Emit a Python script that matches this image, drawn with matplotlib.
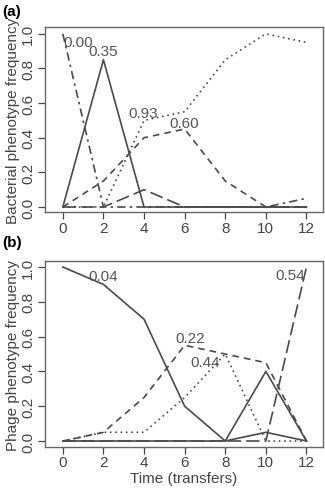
import matplotlib
matplotlib.use('Agg')
from matplotlib import pyplot as plt

plt.rcParams['font.family'] = ['Liberation Sans', 'DejaVu Sans']

# transfers on the x axis
time = [0, 2, 4, 6, 8, 10, 12]

# panel (a): bacterial phenotypes
bact_solid = [0, 0.85, 0, 0, 0, 0, 0]
bact_dotdash = [1.0, 0, 0, 0, 0, 0, 0.05]
bact_dotted = [0, 0, 0.5, 0.55, 0.85, 1.0, 0.95]
bact_dashed = [0, 0.15, 0.4, 0.45, 0.15, 0, 0]
bact_longdash = [0, 0, 0.1, 0, 0, 0, 0]
bact_labels = ['0.00', '0.35', '0.93', '0.60']
bact_label_x = [0.75, 2.0, 3.95, 6.0]
bact_label_y = [0.95, 0.9, 0.54, 0.485]

# panel (b): phage phenotypes
phage_solid = [1.0, 0.9, 0.7, 0.2, 0, 0.4, 0]
phage_solid2 = [0, 0, 0, 0, 0, 0.05, 0]
phage_dashed = [0, 0.05, 0.25, 0.55, 0.5, 0.45, 0]
phage_dotted = [0, 0.05, 0.05, 0.25, 0.5, 0, 0]
phage_longdash = [0, 0, 0, 0, 0, 0, 1.0]
phage_labels = ['0.04', '0.22', '0.44', '0.54']
phage_label_x = [2.0, 6.25, 7.0, 11.2]
phage_label_y = [0.95, 0.59, 0.455, 0.955]

yticks = [0.0, 0.2, 0.4, 0.6, 0.8, 1.0]
xticks = [0, 2, 4, 6, 8, 10, 12]

line_col = '#4a4a4a'
text_col = '#555555'
lw = 1.2
fs = 11
styles = {
    'solid': '-',
    'dashed': (0, (4, 3)),
    'dotted': (0, (1, 2.2)),
    'longdash': (0, (8, 3)),
    'dotdash': (0, (5, 2.5, 1.5, 2.5)),
}

fig = plt.figure(figsize=(3.25, 4.89), dpi=100)
ax1 = fig.add_axes([0.138, 0.564, 0.855, 0.379])
ax2 = fig.add_axes([0.138, 0.084, 0.855, 0.38])


def style_axes(ax, ylabel, ylim):
    ax.set_xlim(-0.885, 12.8)
    ax.set_ylim(*ylim)
    ax.set_yticks(yticks)
    ax.set_yticklabels(['%.1f' % v for v in yticks], rotation=90, va='center')
    ax.set_xticks(xticks)
    for s in ax.spines.values():
        s.set_color('#666666')
        s.set_linewidth(1.0)
    ax.tick_params(colors='#444444', labelsize=fs, length=5, width=0.9,
                   pad=1)
    ax.tick_params(axis='y', pad=2)
    ax.set_ylabel(ylabel, fontsize=fs, color='#444444', labelpad=1)


for data, st in [(bact_longdash, 'longdash'), (bact_dashed, 'dashed'),
                 (bact_dotted, 'dotted'), (bact_dotdash, 'dotdash'),
                 (bact_solid, 'solid')]:
    ax1.plot(time, data, color=line_col, lw=lw, linestyle=styles[st])
for lab, x, y in zip(bact_labels, bact_label_x, bact_label_y):
    ax1.text(x, y, lab, color=text_col, fontsize=fs, ha='center', va='center')
style_axes(ax1, 'Bacterial phenotype frequency', (-0.03, 1.04))

for data, st in [(phage_longdash, 'longdash'), (phage_dashed, 'dashed'),
                 (phage_dotted, 'dotted'), (phage_solid2, 'solid'),
                 (phage_solid, 'solid')]:
    ax2.plot(time, data, color=line_col, lw=lw, linestyle=styles[st])
for lab, x, y in zip(phage_labels, phage_label_x, phage_label_y):
    ax2.text(x, y, lab, color=text_col, fontsize=fs, ha='center', va='center')
style_axes(ax2, 'Phage phenotype frequency', (-0.034, 1.034))
ax2.set_xlabel('Time (transfers)', fontsize=fs, color='#444444', labelpad=1)

fig.text(0.006, 0.975, '(a)', fontsize=fs, fontweight='bold', va='center')
fig.text(0.006, 0.503, '(b)', fontsize=fs, fontweight='bold', va='center')

fig.savefig('out.png', dpi=100)
